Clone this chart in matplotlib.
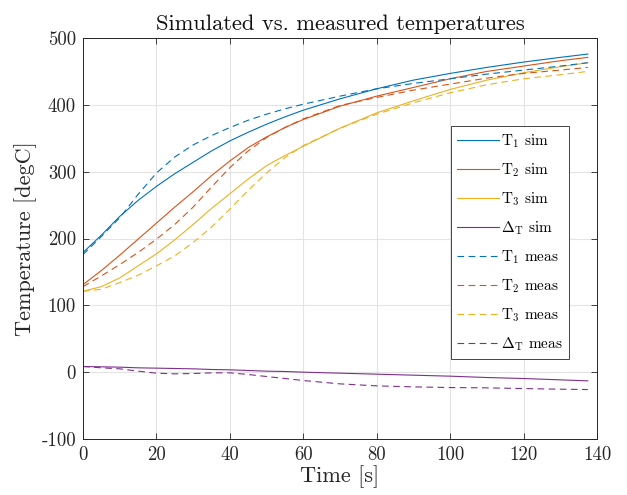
import matplotlib
matplotlib.use('Agg')
import matplotlib.pyplot as plt

plt.rcParams['font.family'] = ['cmr10', 'DejaVu Serif']
plt.rcParams['mathtext.fontset'] = 'cm'
plt.rcParams['axes.unicode_minus'] = False
plt.rcParams['axes.formatter.use_mathtext'] = False

# time axis [s]
t = [0, 5, 10, 15, 20, 25, 30, 35, 40, 45, 50, 55, 60, 70, 80, 90, 100, 110, 120, 130, 137.5]

# simulated temperatures [degC]
t1_sim = [179, 205, 233, 257, 278, 297, 314, 331, 346, 359, 371, 382, 392, 409, 424, 437, 447, 456, 464, 471, 476]
t2_sim = [131, 152, 175, 199, 223, 247, 270, 294, 316, 336, 352, 366, 378, 398, 413, 426, 439, 450, 458, 466, 471]
t3_sim = [121, 128, 141, 159, 177, 198, 221, 245, 267, 289, 309, 324, 338, 365, 388, 406, 423, 437, 448, 457, 463]
dt_sim = [8.5, 8, 7.5, 6.5, 6, 5.5, 5, 4, 3.5, 2.5, 1.5, 1, 0, -1.5, -3, -4.5, -6, -8, -9.5, -11.5, -13]

# measured temperatures [degC]
t1_meas = [176, 203, 231, 266, 298, 322, 340, 354, 366, 377, 386, 394, 401, 413, 424, 432, 439, 446, 452, 458, 463]
t2_meas = [128, 144, 161, 179, 199, 221, 247, 277, 306, 331, 351, 366, 379, 399, 411, 422, 431, 440, 447, 452, 456]
t3_meas = [121, 124, 134, 145, 159, 174, 194, 217, 244, 272, 298, 321, 339, 365, 386, 403, 418, 430, 439, 445, 450]
dt_meas = [8.5, 6.5, 5, 1.5, -1.5, -2.5, -2, -1, -1, -3.5, -6.5, -9.5, -12.5, -17.5, -20.5, -22, -23, -23.5, -24.5, -25.5, -26]

colors = ['#0072bd', '#d95319', '#edb120', '#7e2f8e']
labels = [r'$\mathrm{T}_1$ sim', r'$\mathrm{T}_2$ sim', r'$\mathrm{T}_3$ sim', r'$\Delta_\mathrm{T}$ sim',
          r'$\mathrm{T}_1$ meas', r'$\mathrm{T}_2$ meas', r'$\mathrm{T}_3$ meas', r'$\Delta_\mathrm{T}$ meas']

fig = plt.figure(figsize=(6.27, 4.95), dpi=100)
ax = fig.add_axes([83 / 627, 1 - 439 / 495, 514 / 627, 401 / 495])

for c, y, lab in zip(colors, [t1_sim, t2_sim, t3_sim, dt_sim], labels[:4]):
    ax.plot(t, y, '-', color=c, lw=0.8, label=lab)
for c, y, lab in zip(colors, [t1_meas, t2_meas, t3_meas, dt_meas], labels[4:]):
    ax.plot(t, y, '--', color=c, lw=0.8, dashes=(6, 4), label=lab)

ax.set_xlim(0, 140)
ax.set_ylim(-100, 500)
ax.set_xticks(range(0, 141, 20))
ax.set_yticks(range(-100, 501, 100))
ax.grid(True, color='#e3e3e3', lw=0.8)
ax.set_axisbelow(True)
ax.tick_params(direction='in', top=True, right=True, length=4, width=0.6,
               labelsize=13.5, colors='#262626', pad=5)
for s in ax.spines.values():
    s.set_color('#262626')
    s.set_linewidth(0.7)

ax.set_xlabel('Time [s]', fontsize=16, color='#262626', labelpad=1)
ax.set_ylabel('Temperature [degC]', fontsize=16, color='#262626', labelpad=3)
ax.set_title('Simulated vs. measured temperatures', fontsize=16.2, color='#111111', pad=6)

leg = ax.legend(loc='upper right', bbox_to_anchor=(0.9455, 0.7805), borderaxespad=0,
                fontsize=11, handlelength=2.7, labelspacing=0.75, handletextpad=0.15,
                borderpad=0.4, fancybox=False, framealpha=1, edgecolor='#262626')
leg.get_frame().set_linewidth(0.6)

fig.savefig('out.png', dpi=100)
plt.close(fig)
